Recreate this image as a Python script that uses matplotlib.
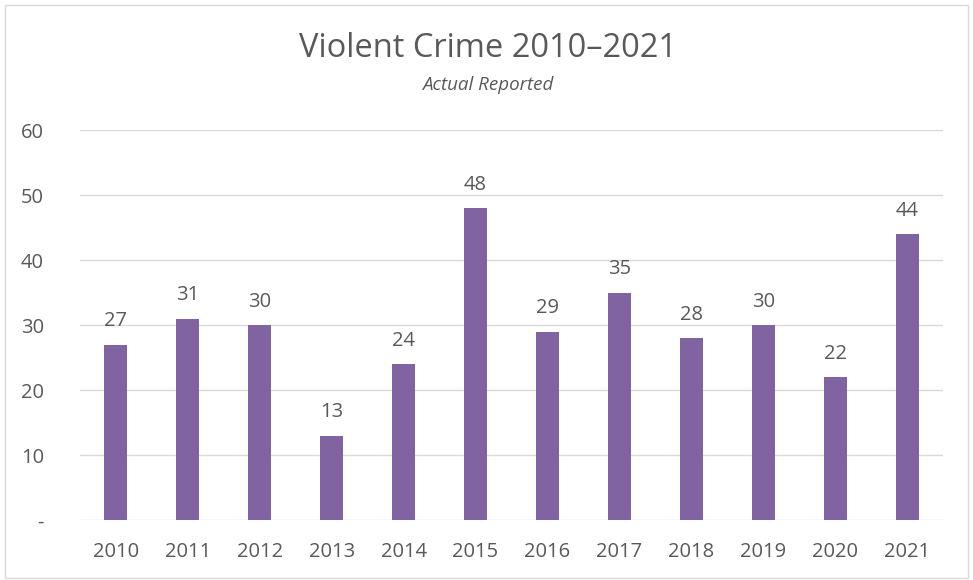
import matplotlib.pyplot as plt
from matplotlib.patches import Rectangle

years = ['2010', '2011', '2012', '2013', '2014', '2015', '2016', '2017', '2018', '2019', '2020', '2021']
crimes = [27, 31, 30, 13, 24, 48, 29, 35, 28, 30, 22, 44]
yticks = [0, 10, 20, 30, 40, 50, 60]
ylabels = ['-', '10', '20', '30', '40', '50', '60']

text_color = '#595959'
plt.rcParams['font.family'] = ['Open Sans', 'DejaVu Sans']

fig = plt.figure(figsize=(9.73, 5.8), dpi=100)
fig.patches.append(Rectangle((5 / 973, 2 / 580), 963 / 973, 573 / 580, transform=fig.transFigure,
                             fill=False, edgecolor='#D9D9D9', linewidth=1))
ax = fig.add_axes([0.0822, 0.1034, 0.887, 0.6724])

x = range(len(years))
bars = ax.bar(x, crimes, width=0.32, color='#8064A2', zorder=3)
for xi, v in zip(x, crimes):
    ax.text(xi, v + 3.6, str(v), ha='center', va='center', fontsize=14.5, color=text_color)

ax.set_xlim(-0.5, len(years) - 0.5)
ax.set_ylim(0, 60)
ax.set_yticks(yticks)
ax.set_yticklabels(ylabels)
ax.set_xticks(list(x))
ax.set_xticklabels(years)
ax.tick_params(axis='both', length=0, labelsize=14.5, colors=text_color)
ax.tick_params(axis='y', pad=26)
ax.tick_params(axis='x', pad=16)
ax.yaxis.grid(True, color='#D9D9D9', linewidth=1, zorder=0)
for s in ax.spines.values():
    s.set_visible(False)

fig.text(0.5015, 0.917, 'Violent Crime 2010\u20132021', ha='center', va='center', fontsize=23.5, color=text_color)
fig.text(0.5015, 0.853, 'Actual Reported', ha='center', va='center', fontsize=13.5, style='italic', color=text_color)

fig.savefig('out.png', dpi=100)
